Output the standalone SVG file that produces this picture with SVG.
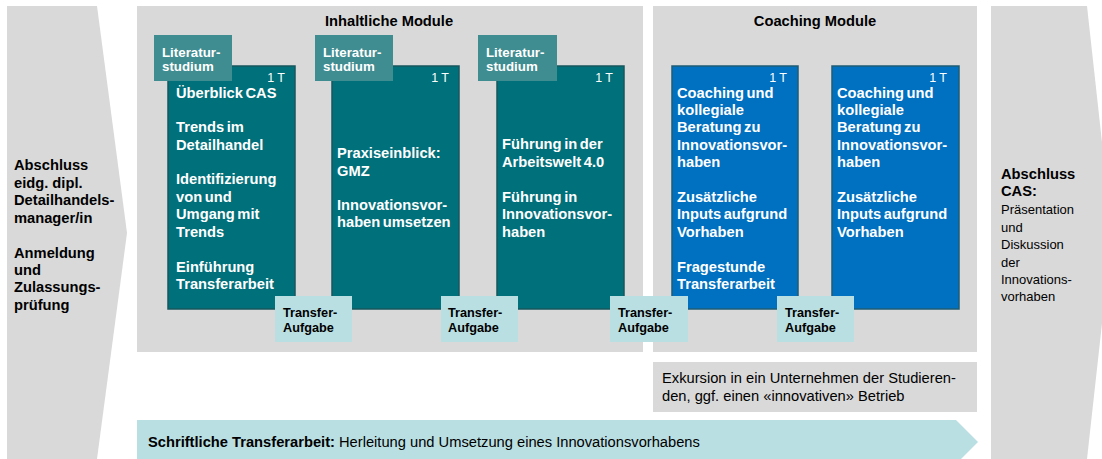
<svg xmlns="http://www.w3.org/2000/svg" width="1102" height="459" viewBox="0 0 1102 459">
<style>
text{font-family:"Liberation Sans",Arial,sans-serif}
.g{fill:#D9D9D9}
.mod{fill:#00707A;stroke:#17575E;stroke-width:1.5}
.blue{fill:#0070C0;stroke:#1D5C74;stroke-width:1.5}
.tab{fill:#3F8C91}
.tr{fill:#B9DFE2}
.wb{fill:#fff;font-weight:bold;font-size:14.7px;word-spacing:-1.5px}
.bb{fill:#000;font-weight:bold;font-size:14.7px}
.tt{fill:#fff;font-weight:bold;font-size:13.3px}
.one{fill:#fff;font-size:12.5px;text-anchor:end}
.ta{fill:#000;font-weight:bold;font-size:12.7px}
.rg{fill:#000;font-size:14.7px}
.rs{fill:#000;font-size:13px}
</style>
<g id="start"><polygon class="g" points="7,6 97,6 127,233 97,459 7,459"/>
<text class="bb" x="14"><tspan x="14" y="170">Abschluss</tspan><tspan x="14" y="188">eidg. dipl.</tspan><tspan x="14" y="205">Detailhandels-</tspan><tspan x="14" y="223">manager/in</tspan><tspan x="14" y="258">Anmeldung</tspan><tspan x="14" y="275">und</tspan><tspan x="14" y="292">Zulassungs-</tspan><tspan x="14" y="310">prüfung</tspan></text></g>
<g id="inhalt"><rect class="g" x="137" y="6" width="506" height="346"/><text class="bb" x="389" y="26" text-anchor="middle">Inhaltliche Module</text></g>
<g id="coaching"><rect class="g" x="653" y="6" width="324" height="346"/><text class="bb" x="815" y="26" text-anchor="middle">Coaching Module</text></g>
<g id="end"><polygon class="g" points="991,6 1087,6 1112,233 1087,459 991,459"/>
<text class="bb"><tspan x="1001" y="179">Abschluss</tspan><tspan x="1001" y="196">CAS:</tspan></text>
<text class="rs"><tspan x="1001" y="214">Präsentation</tspan><tspan x="1001" y="232">und</tspan><tspan x="1001" y="249">Diskussion</tspan><tspan x="1001" y="267">der</tspan><tspan x="1001" y="284">Innovations-</tspan><tspan x="1001" y="301">vorhaben</tspan></text></g>
<g id="m1"><rect class="mod" x="168" y="66" width="127" height="243"/><text class="one" x="285" y="82">1 T</text>
<text class="wb"><tspan x="176" y="98">Überblick CAS</tspan><tspan x="176" y="132">Trends im</tspan><tspan x="176" y="150">Detailhandel</tspan><tspan x="176" y="184">Identifizierung</tspan><tspan x="176" y="202">von und</tspan><tspan x="176" y="219">Umgang mit</tspan><tspan x="176" y="237">Trends</tspan><tspan x="176" y="272">Einführung</tspan><tspan x="176" y="289">Transferarbeit</tspan></text></g>
<g id="lit1"><rect class="tab" x="154" y="35" width="78" height="46"/><text class="tt"><tspan x="162" y="57">Literatur-</tspan><tspan x="162" y="71">studium</tspan></text></g>
<g id="m2"><rect class="mod" x="332" y="66" width="127" height="243"/><text class="one" x="449" y="82">1 T</text>
<text class="wb"><tspan x="337" y="158">Praxiseinblick:</tspan><tspan x="337" y="176">GMZ</tspan><tspan x="337" y="210">Innovationsvor-</tspan><tspan x="337" y="227">haben umsetzen</tspan></text></g>
<g id="lit2"><rect class="tab" x="315" y="35" width="78" height="46"/><text class="tt"><tspan x="323" y="57">Literatur-</tspan><tspan x="323" y="71">studium</tspan></text></g>
<g id="m3"><rect class="mod" x="497" y="66" width="127" height="243"/><text class="one" x="613" y="82">1 T</text>
<text class="wb"><tspan x="502" y="149">Führung in der</tspan><tspan x="502" y="167">Arbeitswelt 4.0</tspan><tspan x="502" y="202">Führung in</tspan><tspan x="502" y="219">Innovationsvor-</tspan><tspan x="502" y="237">haben</tspan></text></g>
<g id="lit3"><rect class="tab" x="478" y="35" width="79" height="46"/><text class="tt"><tspan x="486" y="57">Literatur-</tspan><tspan x="486" y="71">studium</tspan></text></g>
<g id="c1"><rect class="blue" x="672" y="66" width="126" height="243"/><text class="one" x="787" y="82">1 T</text>
<text class="wb"><tspan x="677" y="98">Coaching und</tspan><tspan x="677" y="115">kollegiale</tspan><tspan x="677" y="132">Beratung zu</tspan><tspan x="677" y="150">Innovationsvor-</tspan><tspan x="677" y="167">haben</tspan><tspan x="677" y="202">Zusätzliche</tspan><tspan x="677" y="219">Inputs aufgrund</tspan><tspan x="677" y="237">Vorhaben</tspan><tspan x="677" y="272">Fragestunde</tspan><tspan x="677" y="289">Transferarbeit</tspan></text></g>
<g id="c2"><rect class="blue" x="832" y="66" width="127" height="243"/><text class="one" x="947" y="82">1 T</text>
<text class="wb"><tspan x="837" y="98">Coaching und</tspan><tspan x="837" y="115">kollegiale</tspan><tspan x="837" y="132">Beratung zu</tspan><tspan x="837" y="150">Innovationsvor-</tspan><tspan x="837" y="167">haben</tspan><tspan x="837" y="202">Zusätzliche</tspan><tspan x="837" y="219">Inputs aufgrund</tspan><tspan x="837" y="237">Vorhaben</tspan></text></g>
<g id="t1"><rect class="tr" x="275" y="296" width="77" height="46"/><text class="ta"><tspan x="283" y="317">Transfer-</tspan><tspan x="283" y="332">Aufgabe</tspan></text></g>
<g id="t2"><rect class="tr" x="441" y="296" width="77" height="46"/><text class="ta"><tspan x="448" y="317">Transfer-</tspan><tspan x="448" y="332">Aufgabe</tspan></text></g>
<g id="t3"><rect class="tr" x="610" y="296" width="78" height="46"/><text class="ta"><tspan x="618" y="317">Transfer-</tspan><tspan x="618" y="332">Aufgabe</tspan></text></g>
<g id="t4"><rect class="tr" x="777" y="296" width="77" height="46"/><text class="ta"><tspan x="785" y="317">Transfer-</tspan><tspan x="785" y="332">Aufgabe</tspan></text></g>
<g id="exkursion"><rect class="g" x="653" y="362" width="324" height="50"/><text class="rg"><tspan x="662" y="383">Exkursion in ein Unternehmen der Studieren-</tspan><tspan x="662" y="401">den, ggf. einen «innovativen» Betrieb</tspan></text></g>
<g id="transferarbeit"><polygon class="tr" points="137,420 956,420 978,442 956,464 137,464"/><text class="rg" x="148" y="447"><tspan font-weight="bold">Schriftliche Transferarbeit:</tspan> Herleitung und Umsetzung eines Innovationsvorhabens</text></g>
<g id="connectors"/>
</svg>
